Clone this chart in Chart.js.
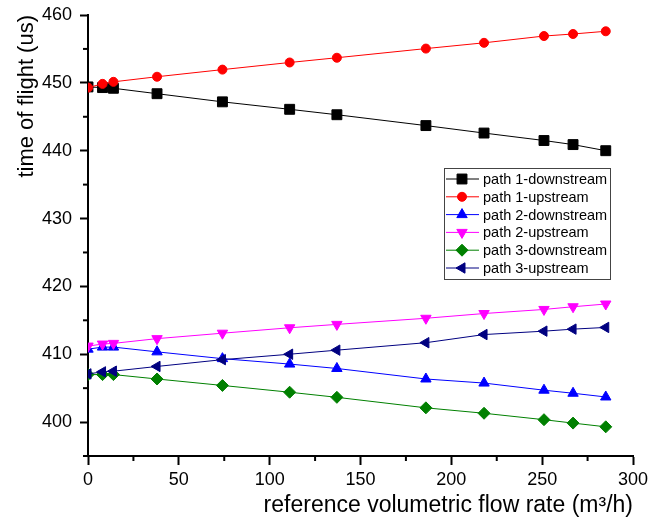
<!DOCTYPE html>
<html>
<head>
<meta charset="utf-8">
<script src="https://cdn.jsdelivr.net/npm/chart.js@4/dist/chart.umd.min.js"></script>
<style>
  html, body { margin: 0; padding: 0; background: #fff; }
  #wrap { width: 648px; height: 524px; }
</style>
</head>
<body>
<div id="wrap"><canvas id="tofChart" width="648" height="524"></canvas></div>
<script>
// flow rate (m3/h) and time of flight (us) per path
const flow = [0, 8, 14, 38, 74, 111, 137, 186, 218, 251, 267, 285];
const p1Down = [449.4, 449.3, 449.2, 448.4, 447.2, 446.1, 445.3, 443.7, 442.6, 441.5, 440.9, 440.0];
const p1Up = [449.3, 449.85, 450.15, 450.9, 451.95, 453.0, 453.7, 455.05, 455.9, 456.9, 457.2, 457.6];
const p2Down = [410.75, 411.05, 411.05, 410.35, 409.35, 408.55, 407.9, 406.35, 405.75, 404.7, 404.25, 403.7];
const p2Up = [411.2, 411.5, 411.6, 412.3, 413.1, 413.9, 414.4, 415.3, 416.0, 416.6, 417.0, 417.4];
const p3Down = [407.0, 407.0, 407.0, 406.35, 405.4, 404.4, 403.65, 402.1, 401.3, 400.35, 399.85, 399.3];
const p3Up = [407.1, 407.4, 407.5, 408.2, 409.2, 410.0, 410.6, 411.7, 412.9, 413.4, 413.7, 413.95];

const seriesNames = ['path 1-downstream', 'path 1-upstream', 'path 2-downstream', 'path 2-upstream', 'path 3-downstream', 'path 3-upstream'];
const seriesValues = [p1Down, p1Up, p2Down, p2Up, p3Down, p3Up];
const seriesColors = ['#000000', '#ff0000', '#0000ff', '#ff00ff', '#008000', '#000080'];
const seriesShapes = ['rect', 'circle', 'triangle', 'triangle', 'rectRot', 'triangle'];
const seriesRotation = [0, 0, 0, 180, 0, -90];
const seriesRadius = [7, 4.5, 6, 6, 6, 6];

const FONT = "'Liberation Sans', Arial, sans-serif";

const datasets = seriesNames.map((name, i) => ({
  label: name,
  data: flow.map((x, j) => ({x: x, y: seriesValues[i][j]})),
  order: seriesNames.length - i,   // later series drawn on top
  showLine: true,
  borderColor: seriesColors[i],
  backgroundColor: seriesColors[i],
  borderWidth: 1,
  pointStyle: seriesShapes[i],
  rotation: seriesRotation[i],
  pointRadius: seriesRadius[i],
  pointBorderWidth: 1,
  pointBorderColor: seriesColors[i],
  pointBackgroundColor: seriesColors[i]
}));

// short minor ticks (ticks not on a labelled value)
const minorTicks = {
  id: 'minorTicks',
  afterDraw(chart) {
    const ctx = chart.ctx;
    ctx.save();
    ctx.strokeStyle = '#000';
    ctx.lineWidth = 2;
    const xs = chart.scales.x, ys = chart.scales.y;
    xs.ticks.forEach(t => {
      if (t.value % 50 === 0) return;
      const px = xs.getPixelForValue(t.value);
      ctx.beginPath(); ctx.moveTo(px, xs.top); ctx.lineTo(px, xs.top + 5); ctx.stroke();
    });
    ys.ticks.forEach(t => {
      if (t.value % 10 === 0) return;
      const py = ys.getPixelForValue(t.value);
      ctx.beginPath(); ctx.moveTo(ys.right, py); ctx.lineTo(ys.right - 5, py); ctx.stroke();
    });
    ctx.restore();
  }
};

// boxed legend inside the plot, Origin style
const boxLegend = {
  id: 'boxLegend',
  afterDraw(chart) {
    const ctx = chart.ctx;
    const area = chart.chartArea;
    const bx = area.right - 189, by = area.top + 153, bw = 166, bh = 111, row = 17.8;
    ctx.save();
    ctx.fillStyle = '#fff';
    ctx.fillRect(bx, by, bw, bh);
    ctx.strokeStyle = '#444';
    ctx.lineWidth = 1;
    ctx.strokeRect(bx + 0.5, by + 0.5, bw, bh);
    ctx.font = '14.5px ' + FONT;
    ctx.textBaseline = 'middle';
    chart.data.datasets.forEach((ds, i) => {
      const cy = by + 11 + i * row;
      ctx.strokeStyle = ds.borderColor;
      ctx.lineWidth = 1;
      ctx.beginPath(); ctx.moveTo(bx + 2, cy); ctx.lineTo(bx + 35, cy); ctx.stroke();
      ctx.fillStyle = ds.backgroundColor;
      Chart.helpers.drawPoint(ctx, {
        pointStyle: ds.pointStyle, rotation: ds.rotation,
        radius: ds.pointRadius, borderWidth: 1
      }, bx + 18, cy);
      ctx.fillStyle = '#000';
      ctx.fillText(ds.label, bx + 39, cy + 1);
    });
    ctx.restore();
  }
};

new Chart(document.getElementById('tofChart'), {
  type: 'scatter',
  data: {datasets: datasets},
  plugins: [minorTicks, boxLegend],
  options: {
    responsive: false,
    animation: false,
    layout: {padding: {top: 15, right: 15, left: 0, bottom: 0}},
    plugins: {legend: {display: false}, tooltip: {enabled: false}},
    scales: {
      x: {
        type: 'linear', min: 0, max: 300,
        afterFit: s => { s.height = 68; s.paddingLeft = 0; s.paddingRight = 0; },
        ticks: {
          stepSize: 25, padding: 4, color: '#000', maxRotation: 0,
          font: {family: FONT, size: 18},
          callback: v => (v % 50 === 0 ? v : '')
        },
        grid: {
          drawOnChartArea: false, tickLength: 9, tickWidth: 2,
          tickColor: c => (c.tick && c.tick.value % 50 === 0 ? '#000' : 'rgba(0,0,0,0)')
        },
        border: {display: true, color: '#000', width: 2},
        title: {
          display: true, text: 'reference volumetric flow rate (m\u00B3/h)', align: 'end',
          color: '#000', font: {family: FONT, size: 23}, padding: {top: 0, bottom: 5}
        }
      },
      y: {
        type: 'linear', min: 395, max: 460,
        afterFit: s => { s.width = 88; s.paddingTop = 0; s.paddingBottom = 0; },
        ticks: {
          stepSize: 5, padding: 8, color: '#000',
          font: {family: FONT, size: 18},
          callback: v => (v % 10 === 0 ? v : '')
        },
        grid: {
          drawOnChartArea: false, tickLength: 8, tickWidth: 2,
          tickColor: c => (c.tick && c.tick.value % 10 === 0 ? '#000' : 'rgba(0,0,0,0)')
        },
        border: {display: true, color: '#000', width: 2},
        title: {
          display: true, text: 'time of flight (us)', align: 'end',
          color: '#000', font: {family: FONT, size: 22}, padding: {top: 14, bottom: 0}
        }
      }
    }
  }
});
</script>
</body>
</html>
